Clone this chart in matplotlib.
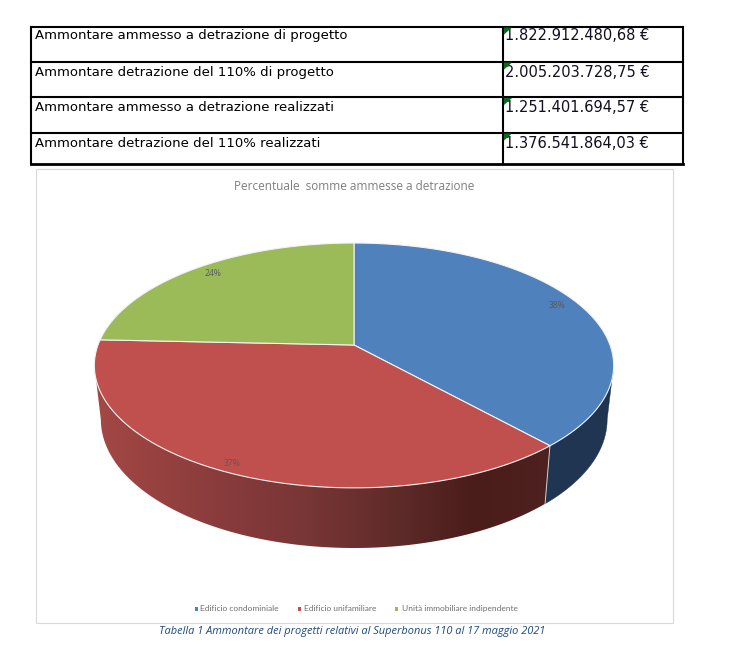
import numpy as np
import matplotlib
matplotlib.use('Agg')
import matplotlib.pyplot as plt
from matplotlib.patches import Rectangle, Polygon
from matplotlib.colors import LinearSegmentedColormap

# table
row_labels = ['Ammontare ammesso a detrazione di progetto',
              'Ammontare detrazione del 110% di progetto',
              'Ammontare ammesso a detrazione realizzati',
              'Ammontare detrazione del 110% realizzati']
row_values = ['1.822.912.480,68 €', '2.005.203.728,75 €',
              '1.251.401.694,57 €', '1.376.541.864,03 €']

# pie
categories = ['Edificio condominiale', 'Edificio unifamiliare', 'Unità immobiliare indipendente']
shares = [38.3, 37.4, 24.3]
top_colors = ['#4f81bd', '#c0504d', '#9bbb59']
title = 'Percentuale  somme ammesse a detrazione'
caption = 'Tabella 1 Ammontare dei progetti relativi al Superbonus 110 al 17 maggio 2021'

fig = plt.figure(figsize=(7.29, 6.46), dpi=100)
ax = fig.add_axes([0, 0, 1, 1])
ax.set_xlim(0, 729)
ax.set_ylim(646, 0)
ax.axis('off')

# table grid
row_y = [26.5, 61.5, 97, 132.5, 163.5]
text_y = [35.5, 72.5, 107.5, 143.5]
tx0, tx1, tcol = 31.5, 683, 503
for y in row_y:
    ax.plot([tx0, tx1], [y, y], color='black', lw=2.0 if y == row_y[-1] else 1.5,
            solid_capstyle='projecting')
for x in [tx0, tcol, tx1]:
    ax.plot([x, x], [row_y[0], row_y[-1]], color='black', lw=1.5, solid_capstyle='projecting')
for i in range(4):
    ax.text(35, text_y[i], row_labels[i], fontsize=9.56, family='DejaVu Sans',
            color='black', va='center', ha='left')
    ax.text(505, text_y[i], row_values[i], fontsize=10.5, family='DejaVu Sans',
            color='#101020', va='center', ha='left')
    ax.add_patch(Polygon([[tcol + 1, row_y[i] + 1], [tcol + 9, row_y[i] + 1], [tcol + 1, row_y[i] + 8]],
                         closed=True, color='#0a6a1e', lw=0, zorder=3))

# chart frame
ax.add_patch(Rectangle((36, 169), 637, 454, fc='white', ec='#d9d9d9', lw=0.8))
ax.text(354, 186, title, fontsize=8.5, family='Open Sans', color='#7f7f7f', ha='center', va='center')

# flat disc seen in perspective
cx, cy = 354, 345
A, B, k = 256, 119, 0.167


def project(theta):
    # theta clockwise from 12 o'clock
    X, Y = np.sin(theta), np.cos(theta)
    d = 1 + k * Y
    return cx + A * X / d, cy - B * Y / d


def lower(x, y):
    # bottom rim of the wall, a bit narrower and deeper toward the viewer
    return cx + (x - cx) * 0.975, y + 54 + (y - 365) * 0.05


def side_poly(t0, t1):
    t = np.linspace(t0, t1, 160)
    x, y = project(t)
    bx, by = lower(x, y)
    return np.r_[x, bx[::-1]], np.r_[y, by[::-1]]


edges = np.r_[0, np.cumsum(shares)] / np.sum(shares) * 2 * np.pi

# rightmost / leftmost points of the outline, side wall only shows between them
t_right = np.pi / 2 + np.arcsin(k)
t_left = 3 * np.pi / 2 - np.arcsin(k)

# blue side
sx, sy = side_poly(t_right, edges[1])
ax.add_patch(Polygon(np.c_[sx, sy], closed=True, fc='#1f3552', ec='#1f3552', lw=0.3, zorder=2))

# red side, gradient from left to right
sx, sy = side_poly(edges[1], t_left)
red_cmap = LinearSegmentedColormap.from_list('red_side', [
    (0.0, '#a34845'), (0.33, '#84393a'), (0.46, '#793636'),
    (0.68, '#5c2a28'), (0.83, '#4a1c1a'), (1.0, '#4e2220')])
poly = Polygon(np.c_[sx, sy], closed=True, fc='none', ec='none')
ax.add_patch(poly)
grad = np.linspace(0, 1, 256).reshape(1, -1)
im = ax.imshow(grad, extent=[94, 552, 560, 330], cmap=red_cmap, aspect='auto', zorder=2)
im.set_clip_path(poly)
ax.set_xlim(0, 729)
ax.set_ylim(646, 0)

# divider on the wall
x0, y0 = project(edges[1])
bx0, by0 = lower(x0, y0)
ax.plot([x0, bx0], [y0, by0], color='#d0d0d0', lw=0.7, zorder=3)

# top slices
for i in range(3):
    t = np.linspace(edges[i], edges[i + 1], 200)
    x, y = project(t)
    ax.add_patch(Polygon(np.c_[np.r_[cx, x], np.r_[cy, y]], closed=True, fc=top_colors[i],
                         ec='#f2f2f2', lw=0.8, zorder=4, joinstyle='round'))

# percent labels
label_xy = [(557, 305), (232, 463), (213, 274)]
for i in range(3):
    ax.text(label_xy[i][0], label_xy[i][1], '%d%%' % int(shares[i]), fontsize=6.2,
            family='Open Sans', color='#5a5a5a', ha='center', va='center', zorder=5)

# legend
leg_sq = [197, 300, 397]
leg_tx = [200.5, 304, 402]
for i in range(3):
    ax.add_patch(Rectangle((leg_sq[i] - 2, 607), 3.5, 3.5, fc=top_colors[i], ec='none'))
    ax.text(leg_tx[i], 608.5, categories[i], fontsize=6.0, family='Lato',
            color='#6f6f6f', ha='left', va='center')

ax.text(352, 631.5, caption, fontsize=7.9, family='Open Sans', style='italic',
        color='#1f497d', ha='center', va='center')

fig.savefig('out.png', dpi=100)
